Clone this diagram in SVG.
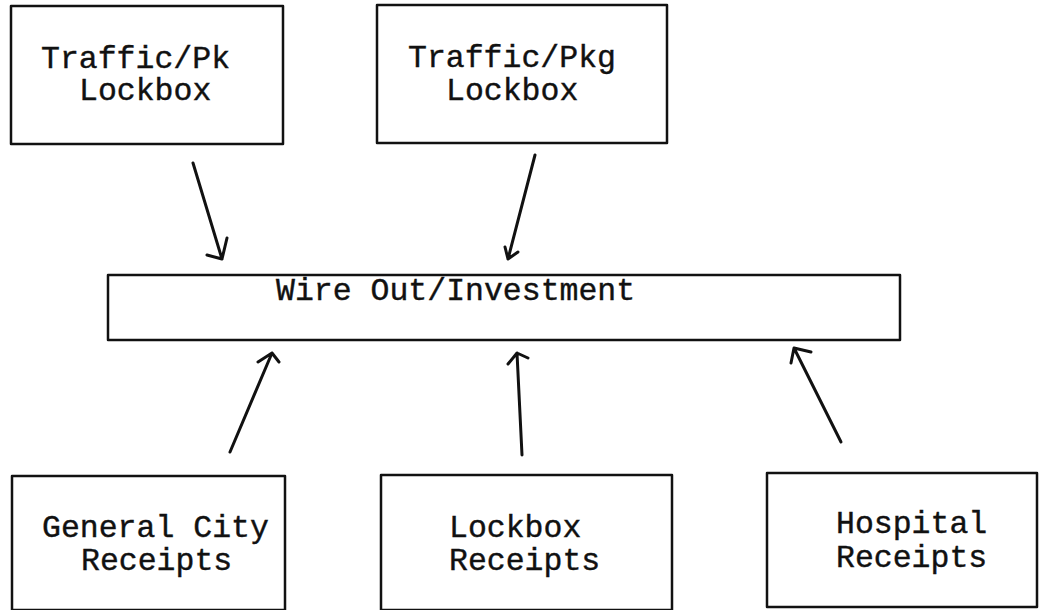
<svg xmlns="http://www.w3.org/2000/svg" width="1043" height="610" viewBox="0 0 1043 610">
<style>
.box{fill:#fff;stroke:#111;stroke-width:2.5;stroke-linejoin:round}
.t{font-family:"Liberation Mono","Courier New",monospace;font-size:31.5px;fill:#111;stroke:#111;stroke-width:0.4}
.c{fill:none;stroke:#111;stroke-width:3;stroke-linecap:round;stroke-linejoin:round}
</style>
<rect width="1043" height="610" fill="#fff"/>
<g id="traffic-pk">
<rect class="box" x="11" y="6" width="272" height="138"/>
<text class="t" x="41" y="68">Traffic/Pk</text>
<text class="t" x="79" y="100">Lockbox</text>
</g>
<g id="traffic-pkg">
<rect class="box" x="377" y="5" width="290" height="138"/>
<text class="t" x="408" y="67">Traffic/Pkg</text>
<text class="t" x="446" y="100">Lockbox</text>
</g>
<g id="wire-out">
<rect class="box" x="108" y="275" width="792" height="65"/>
<text class="t" x="276" y="300">Wire Out/Investment</text>
</g>
<g id="general-city">
<rect class="box" x="12" y="476" width="273" height="134"/>
<text class="t" x="42" y="537">General City</text>
<text class="t" x="81" y="570">Receipts</text>
</g>
<g id="lockbox-receipts">
<rect class="box" x="381" y="475" width="291" height="135"/>
<text class="t" x="449" y="537">Lockbox</text>
<text class="t" x="449" y="570">Receipts</text>
</g>
<g id="hospital">
<rect class="box" x="767" y="473" width="270" height="134"/>
<text class="t" x="836" y="533">Hospital</text>
<text class="t" x="836" y="567">Receipts</text>
</g>
<g id="connectors">
<path class="c" d="M193 163 L222 259 M207 255 L222 259 L227 238"/>
<path class="c" d="M535 155 L508 259 M505 247 L508 259 L518 252"/>
<path class="c" d="M230 452 L272 353 M258 362 L272 353 L279 362"/>
<path class="c" d="M522 455 L517 353 M508 364 L517 353 L528 358"/>
<path class="c" d="M841 442 L794 348 M791 363 L794 348 L811 352"/>
</g>
</svg>
